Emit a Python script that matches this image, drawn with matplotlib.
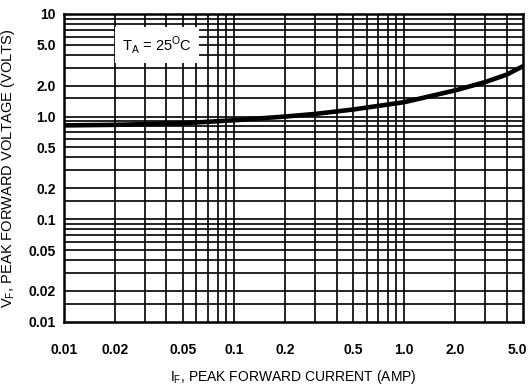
import matplotlib
matplotlib.use('Agg')
import matplotlib.pyplot as plt
import matplotlib.transforms as mtransforms
import numpy as np

plt.rcParams['font.family'] = ['Liberation Sans', 'DejaVu Sans']
plt.rcParams['mathtext.fontset'] = 'custom'
plt.rcParams['mathtext.rm'] = 'Liberation Sans'

# forward characteristic
current = [0.01, 0.02, 0.05, 0.1, 0.2, 0.3, 0.5, 1.0, 2.0, 3.0, 4.0, 5.0]
voltage = [0.82, 0.83, 0.86, 0.92, 1.0, 1.06, 1.17, 1.38, 1.80, 2.17, 2.56, 3.10]

x_ticks = [0.01, 0.02, 0.05, 0.1, 0.2, 0.5, 1.0, 2.0, 5.0]
x_labels = ['0.01', '0.02', '0.05', '0.1', '0.2', '0.5', '1.0', '2.0', '5.0']
y_ticks = [0.01, 0.02, 0.05, 0.1, 0.2, 0.5, 1.0, 2.0, 5.0, 10]
y_labels = ['0.01', '0.02', '0.05', '0.1', '0.2', '0.5', '1.0', '2.0', '5.0', '10']

fig = plt.figure(figsize=(5.29, 3.85), dpi=100)
ax = fig.add_axes([0.121, 0.164, 0.868, 0.800])
ax.set_xscale('log')
ax.set_yscale('log')
ax.set_xlim(0.01, 5.0)
ax.set_ylim(0.01, 10)

# grid lines drawn by hand like the printed chart paper
for d in [0.01, 0.1, 1.0]:
    for m in range(1, 10):
        v = d * m
        if 0.01 < v < 5.0:
            ax.axvline(v, color='k', lw=1.2, zorder=1)
for d in [0.01, 0.1, 1.0]:
    for m in [1, 1.5, 2, 3, 4, 5, 6, 7, 8, 9]:
        v = d * m
        if 0.01 < v < 10:
            ax.axhline(v, color='k', lw=1.2, zorder=1)

ax.plot(current, voltage, color='k', lw=3.3, solid_capstyle='butt',
        solid_joinstyle='round', zorder=3)

ax.set_xticks(x_ticks)
ax.set_xticklabels(x_labels)
ax.set_yticks(y_ticks)
ax.set_yticklabels(y_labels)
ax.minorticks_off()
ax.tick_params(length=0, labelsize=10)
ax.tick_params(axis='x', pad=15)
ax.tick_params(axis='y', pad=6)
for lab in ax.get_xticklabels() + ax.get_yticklabels():
    lab.set_fontweight('bold')

# last x label sits just inside the right edge
last = ax.get_xticklabels()[-1]
last.set_transform(last.get_transform() + mtransforms.ScaledTranslation(-4 / 72, 0, fig.dpi_scale_trans))

for s in ax.spines.values():
    s.set_linewidth(1.8)
    s.set_color('k')

ax.text(0.0352, 5.0, r'T$_\mathregular{A}$ = 25$^\mathregular{O}$C', fontsize=10.5,
        ha='center', va='center', zorder=5,
        bbox=dict(facecolor='white', edgecolor='none', pad=5))

ax.set_xlabel(r'I$_\mathregular{F}$, PEAK FORWARD CURRENT (AMP)', fontsize=10, labelpad=8)
ax.set_ylabel(r'V$_\mathregular{F}$, PEAK FORWARD VOLTAGE (VOLTS)', fontsize=10.5, labelpad=8)

fig.savefig('out.png', dpi=100)
